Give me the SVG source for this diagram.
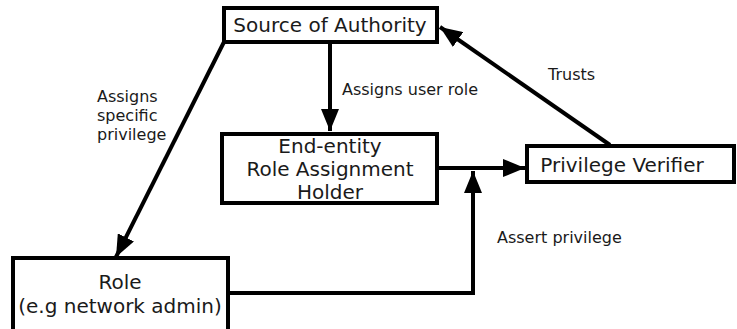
<svg xmlns="http://www.w3.org/2000/svg" width="737" height="329" viewBox="0 0 737 329">
<style>
.box{fill:#fff;stroke:#000;stroke-width:4}
.t{font-family:"DejaVu Sans",sans-serif;font-size:20px;fill:#1a1a1a;text-anchor:middle}
.l{font-family:"DejaVu Sans",sans-serif;font-size:16px;fill:#1a1a1a}
.c{fill:none;stroke:#000;stroke-width:4}
</style>
<defs>
<marker id="ah" markerUnits="userSpaceOnUse" markerWidth="24" markerHeight="18" refX="22" refY="9" orient="auto">
<path d="M0,0 L22,9 L0,18 Z" fill="#000"/>
</marker>
</defs>
<rect width="737" height="329" fill="#fff"/>
<g id="connectors">
<path class="c" d="M330,42 V131" marker-end="url(#ah)"/>
<path class="c" d="M224,42 L116,257" marker-end="url(#ah)"/>
<path class="c" d="M610,145 L440,27" marker-end="url(#ah)"/>
<path class="c" d="M438,168 H525" marker-end="url(#ah)"/>
<path class="c" d="M229,293 H473 V171" marker-end="url(#ah)"/>
</g>
<g id="soa">
<rect class="box" x="224" y="8" width="213" height="34"/>
<text class="t" x="330" y="32">Source of Authority</text>
</g>
<g id="endentity">
<rect class="box" x="222" y="134" width="215" height="69"/>
<text class="t" x="330" y="153">End-entity</text>
<text class="t" x="330" y="176">Role Assignment</text>
<text class="t" x="330" y="199">Holder</text>
</g>
<g id="verifier">
<rect class="box" x="527" y="146" width="207" height="36"/>
<text class="t" x="622" y="172">Privilege Verifier</text>
</g>
<g id="role">
<rect class="box" x="13" y="258" width="215" height="76"/>
<text class="t" x="120" y="289">Role</text>
<text class="t" x="120" y="313">(e.g network admin)</text>
</g>
<g id="labels">
<text class="l" x="342" y="95">Assigns user role</text>
<text class="l" x="548" y="80">Trusts</text>
<text class="l" x="97" y="102">Assigns</text>
<text class="l" x="97" y="121">specific</text>
<text class="l" x="97" y="140">privilege</text>
<text class="l" x="497" y="243">Assert privilege</text>
</g>
</svg>
